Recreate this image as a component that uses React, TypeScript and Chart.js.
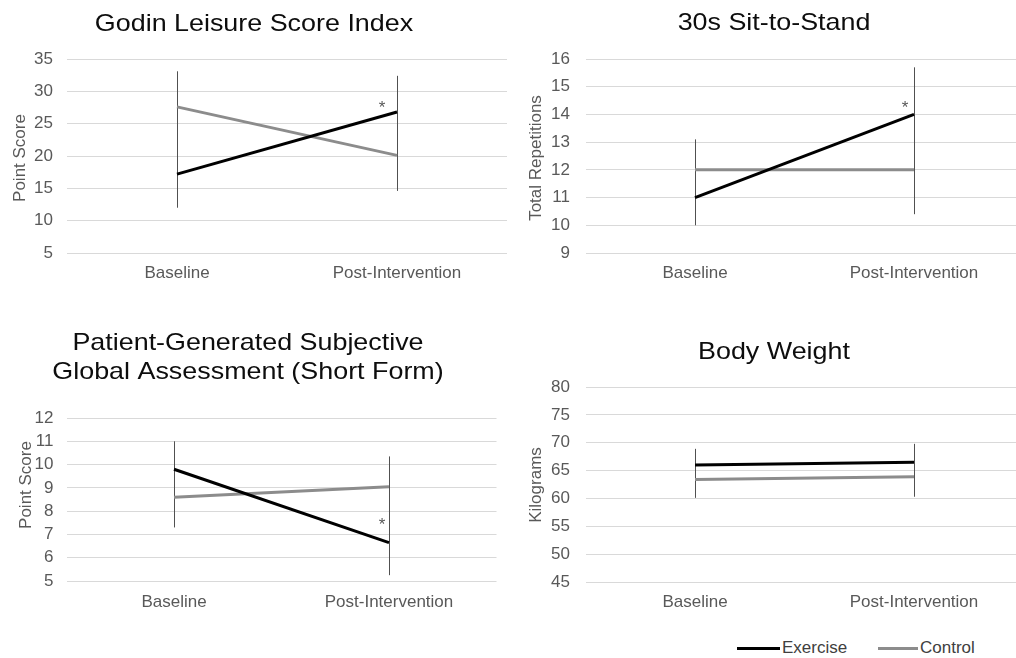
import React, { useEffect, useRef } from 'react';
import { Chart, registerables } from 'chart.js';

Chart.register(...registerables);

// ---------- data ----------
const categories = ['Baseline', 'Post-Intervention'];
const seriesNames = ['Exercise', 'Control'];

const godinTitle = ['Godin Leisure Score Index'];
const godinAxisTitle = 'Point Score';
const godinTicks = [5, 10, 15, 20, 25, 30, 35];
const godinExercise = [17.2, 26.8];
const godinExerciseErr = [5.2, 5.6];
const godinControl = [27.6, 20.1];
const godinControlErr = [5.5, 5.5];
const godinStar = [1, 28.2];

const sitTitle = ['30s Sit-to-Stand'];
const sitAxisTitle = 'Total Repetitions';
const sitTicks = [9, 10, 11, 12, 13, 14, 15, 16];
const sitExercise = [11, 14];
const sitExerciseErr = [1.0, 1.7];
const sitControl = [12, 12];
const sitControlErr = [1.1, 1.6];
const sitStar = [1, 14.4];

const pgTitle = ['Patient-Generated Subjective', 'Global Assessment (Short Form)'];
const pgAxisTitle = 'Point Score';
const pgTicks = [5, 6, 7, 8, 9, 10, 11, 12];
const pgExercise = [9.8, 6.65];
const pgExerciseErr = [1.2, 1.4];
const pgControl = [8.6, 9.05];
const pgControlErr = [1.3, 1.3];
const pgStar = [1, 7.62];

const bwTitle = ['Body Weight'];
const bwAxisTitle = 'Kilograms';
const bwTicks = [45, 50, 55, 60, 65, 70, 75, 80];
const bwExercise = [66, 66.5];
const bwExerciseErr = [2.9, 3.3];
const bwControl = [63.4, 63.9];
const bwControlErr = [3.3, 3.6];

// ---------- styles ----------
const FONT = '"Liberation Sans", Arial, sans-serif';
const TITLE_COLOR = '#0d0d0d';
const TEXT_COLOR = '#595959';
const GRID_COLOR = '#d9d9d9';
const ERR_COLOR = '#505050';
const EXERCISE_COLOR = '#000000';
const CONTROL_COLOR = '#8c8c8c';
const STAR_COLOR = '#595959';
const TITLE_SIZE = 24;
const TITLE_STRETCH = 1.12;

type PanelCfg = {
  key: string;
  left: number; top: number; width: number; height: number;
  area: { left: number; right: number; top: number; bottom: number };
  title: string[]; titleX: number; titleBaselines: number[];
  yTitle: string; yTitleX: number; yTitleY: number;
  ticks: number[]; tickPad: number; xPad: number;
  exercise: number[]; exerciseErr: number[];
  control: number[]; controlErr: number[];
  star: number[] | null; starDx: number;
};

const panels: PanelCfg[] = [
  {
    key: 'godin', left: 0, top: 0, width: 508, height: 290,
    area: { left: 67, right: 507, top: 59, bottom: 253 },
    title: godinTitle, titleX: 254, titleBaselines: [31],
    yTitle: godinAxisTitle, yTitleX: 25, yTitleY: 158,
    ticks: godinTicks, tickPad: 14, xPad: 10,
    exercise: godinExercise, exerciseErr: godinExerciseErr,
    control: godinControl, controlErr: godinControlErr,
    star: godinStar, starDx: -15,
  },
  {
    key: 'sit', left: 508, top: 0, width: 520, height: 290,
    area: { left: 77.5, right: 515.5, top: 59, bottom: 253 },
    title: sitTitle, titleX: 266, titleBaselines: [30],
    yTitle: sitAxisTitle, yTitleX: 33, yTitleY: 158,
    ticks: sitTicks, tickPad: 15.5, xPad: 10,
    exercise: sitExercise, exerciseErr: sitExerciseErr,
    control: sitControl, controlErr: sitControlErr,
    star: sitStar, starDx: -9,
  },
  {
    key: 'pg', left: 0, top: 290, width: 508, height: 335,
    area: { left: 66.5, right: 496.5, top: 128, bottom: 291 },
    title: pgTitle, titleX: 248, titleBaselines: [60, 88.5],
    yTitle: pgAxisTitle, yTitleX: 30.5, yTitleY: 195,
    ticks: pgTicks, tickPad: 13, xPad: 11,
    exercise: pgExercise, exerciseErr: pgExerciseErr,
    control: pgControl, controlErr: pgControlErr,
    star: pgStar, starDx: -7,
  },
  {
    key: 'bw', left: 508, top: 290, width: 520, height: 335,
    area: { left: 77.5, right: 515.5, top: 97, bottom: 292 },
    title: bwTitle, titleX: 266, titleBaselines: [69],
    yTitle: bwAxisTitle, yTitleX: 32.5, yTitleY: 195,
    ticks: bwTicks, tickPad: 15.5, xPad: 10,
    exercise: bwExercise, exerciseErr: bwExerciseErr,
    control: bwControl, controlErr: bwControlErr,
    star: null, starDx: 0,
  },
];

function Panel({ cfg }: { cfg: PanelCfg }) {
  const ref = useRef<HTMLCanvasElement>(null);

  useEffect(() => {
    const canvas = ref.current;
    if (!canvas) return;
    const p = cfg;

    const decor = {
      id: 'decor_' + p.key,
      beforeDatasetsDraw(chart: any) {
        const ctx = chart.ctx;
        const ys = chart.scales.y;
        ctx.save();
        ctx.strokeStyle = ERR_COLOR;
        ctx.lineWidth = 1;
        chart.data.datasets.forEach((ds: any, i: number) => {
          const meta = chart.getDatasetMeta(i);
          (ds.errorBars as number[]).forEach((e, j) => {
            const v = ds.data[j] as number;
            const x = Math.round(meta.data[j].x) + 0.5;
            ctx.beginPath();
            ctx.moveTo(x, ys.getPixelForValue(v + e));
            ctx.lineTo(x, ys.getPixelForValue(v - e));
            ctx.stroke();
          });
        });
        ctx.restore();
      },
      afterDraw(chart: any) {
        const ctx = chart.ctx as CanvasRenderingContext2D;
        // chart title (slightly wide face, as in the source image)
        ctx.save();
        ctx.fillStyle = TITLE_COLOR;
        ctx.font = `${TITLE_SIZE}px ${FONT}`;
        ctx.textAlign = 'center';
        ctx.textBaseline = 'alphabetic';
        p.title.forEach((t, k) => {
          ctx.save();
          ctx.translate(p.titleX, p.titleBaselines[k]);
          ctx.scale(TITLE_STRETCH, 1);
          ctx.fillText(t, 0, 0);
          ctx.restore();
        });
        // star
        if (p.star) {
          const xs = chart.scales.x;
          const ys = chart.scales.y;
          const sx = xs.getPixelForValue(p.star[0]) + p.starDx;
          const sy = ys.getPixelForValue(p.star[1]);
          ctx.fillStyle = STAR_COLOR;
          ctx.font = `17px ${FONT}`;
          ctx.fillText('*', sx, sy + 17 * 0.57);
        }
        // y axis title
        ctx.translate(p.yTitleX, p.yTitleY);
        ctx.rotate(-Math.PI / 2);
        ctx.fillStyle = TEXT_COLOR;
        ctx.font = `17px ${FONT}`;
        ctx.textAlign = 'center';
        ctx.fillText(p.yTitle, 0, 0);
        ctx.restore();
      },
    };

    const ticks = p.ticks;
    const chart = new Chart(canvas, {
      type: 'line',
      data: {
        labels: categories,
        datasets: [
          {
            label: seriesNames[0],
            data: p.exercise,
            errorBars: p.exerciseErr,
            borderColor: EXERCISE_COLOR,
            backgroundColor: EXERCISE_COLOR,
            borderWidth: 3,
            pointRadius: 0,
            tension: 0,
          } as any,
          {
            label: seriesNames[1],
            data: p.control,
            errorBars: p.controlErr,
            borderColor: CONTROL_COLOR,
            backgroundColor: CONTROL_COLOR,
            borderWidth: 3,
            pointRadius: 0,
            tension: 0,
          } as any,
        ],
      },
      options: {
        responsive: false,
        maintainAspectRatio: false,
        animation: false,
        devicePixelRatio: 1,
        layout: {
          padding: { top: p.area.top, right: p.width - p.area.right, left: 0, bottom: 0 },
        },
        plugins: {
          legend: { display: false },
          tooltip: { enabled: false },
          title: { display: false },
        },
        scales: {
          x: {
            type: 'category',
            offset: true,
            grid: { display: false, drawTicks: false },
            border: { display: false },
            ticks: {
              color: TEXT_COLOR,
              font: { family: FONT, size: 17 },
              padding: p.xPad,
              maxRotation: 0,
              autoSkip: false,
            },
            afterFit: (s: any) => { s.height = p.height - p.area.bottom; },
          },
          y: {
            type: 'linear',
            min: ticks[0],
            max: ticks[ticks.length - 1],
            grid: { color: GRID_COLOR, lineWidth: 1, drawTicks: false },
            border: { display: false },
            ticks: {
              stepSize: ticks[1] - ticks[0],
              color: TEXT_COLOR,
              font: { family: FONT, size: 17 },
              padding: p.tickPad,
              autoSkip: false,
            },
            afterFit: (s: any) => { s.width = p.area.left; },
          },
        },
      } as any,
      plugins: [decor],
    });
    return () => chart.destroy();
  }, [cfg]);

  return (
    <div style={{ position: 'absolute', left: cfg.left, top: cfg.top, width: cfg.width, height: cfg.height }}>
      <canvas ref={ref} width={cfg.width} height={cfg.height} style={{ display: 'block' }} />
    </div>
  );
}

function Legend() {
  const items = [
    { name: seriesNames[0], color: EXERCISE_COLOR, lineLeft: 737, lineW: 43, textLeft: 782 },
    { name: seriesNames[1], color: CONTROL_COLOR, lineLeft: 878, lineW: 40, textLeft: 920 },
  ];
  return (
    <>
      {items.map((it) => (
        <React.Fragment key={it.name}>
          <div style={{ position: 'absolute', left: it.lineLeft, top: 646.5, width: it.lineW, height: 3, background: it.color }} />
          <div
            style={{
              position: 'absolute', left: it.textLeft, top: 638, height: 20, lineHeight: '20px',
              fontFamily: FONT, fontSize: 17, color: '#404040', whiteSpace: 'nowrap',
            }}
          >
            {it.name}
          </div>
        </React.Fragment>
      ))}
    </>
  );
}

export default function App() {
  return (
    <div style={{ position: 'absolute', left: 0, top: 0, width: 1016, height: 658, overflow: 'hidden', background: '#ffffff' }}>
      {panels.map((p) => (
        <Panel key={p.key} cfg={p} />
      ))}
      <Legend />
    </div>
  );
}
